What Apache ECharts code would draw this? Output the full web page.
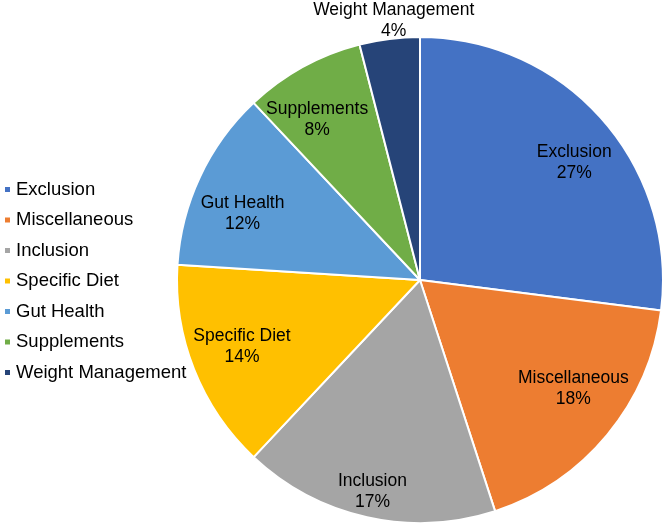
<!DOCTYPE html>
<html>
<head>
<meta charset="utf-8">
<script src="https://cdn.jsdelivr.net/npm/echarts@6/dist/echarts.min.js"></script>
<style>html,body{margin:0;padding:0;background:#fff}#c{width:666px;height:525px}</style>
</head>
<body>
<div id="c"></div>
<script>
var categories = ['Exclusion','Miscellaneous','Inclusion','Specific Diet','Gut Health','Supplements','Weight Management'];
var values = [27, 18, 17, 14, 12, 8, 4];
var colors = ['#4472C4','#ED7D31','#A5A5A5','#FFC000','#5B9BD5','#70AD47','#264478'];

var R = 243, CX = 420, CY = 280;
// label distance from centre, as a fraction of the radius
var labelDist = [0.79, 0.78, 0.885, 0.78, 0.79, 0.79, 1.08];
// small label nudges (px) to follow the reference's best-fit placement
var labelNudge = [[8,12],[5,-14],[0,-1],[1,-4],[-1,17],[-9,11],[7,4]];

var chart = echarts.init(document.getElementById('c'), null, {renderer:'canvas'});
var font = 'Liberation Sans, Arial, sans-serif';

var series = [{
  type:'pie', name:'main', center:[CX,CY], radius:[0,R], startAngle:90, clockwise:true,
  avoidLabelOverlap:false, silent:true, percentPrecision:0,
  itemStyle:{borderColor:'#fff', borderWidth:2},
  label:{show:false}, labelLine:{show:false},
  data: categories.map(function(n,i){return {name:n, value:values[i], itemStyle:{color:colors[i]}};})
}];
categories.forEach(function(n, k){
  var d = labelDist[k]*R, r0, r1;
  if (d < R) { r0 = 2*d - R; r1 = R; } else { r0 = R; r1 = 2*d - R; }
  series.push({
    type:'pie', name:'lab'+k, center:[CX,CY], radius:[r0,r1], startAngle:90, clockwise:true,
    avoidLabelOverlap:false, silent:true, percentPrecision:0,
    itemStyle:{color:'rgba(0,0,0,0)', borderWidth:0},
    emphasis:{disabled:true},
    labelLine:{show:false},
    labelLayout:{dx:labelNudge[k][0], dy:labelNudge[k][1]},
    data: categories.map(function(m,i){
      return {name:m, value:values[i], itemStyle:{color:'rgba(0,0,0,0)'},
        label:{show:i===k, position:'inside', formatter:'{b}\n{d}%', color:'#000',
          fontFamily:font, fontSize:17.5, lineHeight:21, align:'center'}};
    })
  });
});

chart.setOption({
  animation:false,
  backgroundColor:'#fff',
  legend:{
    orient:'vertical', left:3, top:180, padding:0, icon:'rect', itemWidth:7, itemHeight:7,
    itemGap:11.5, selectedMode:false,
    textStyle:{fontFamily:font, fontSize:18.5, color:'#000'},
    data: categories.map(function(n,i){return {name:n, itemStyle:{color:colors[i]}};})
  },
  series: series
});
</script>
</body>
</html>
